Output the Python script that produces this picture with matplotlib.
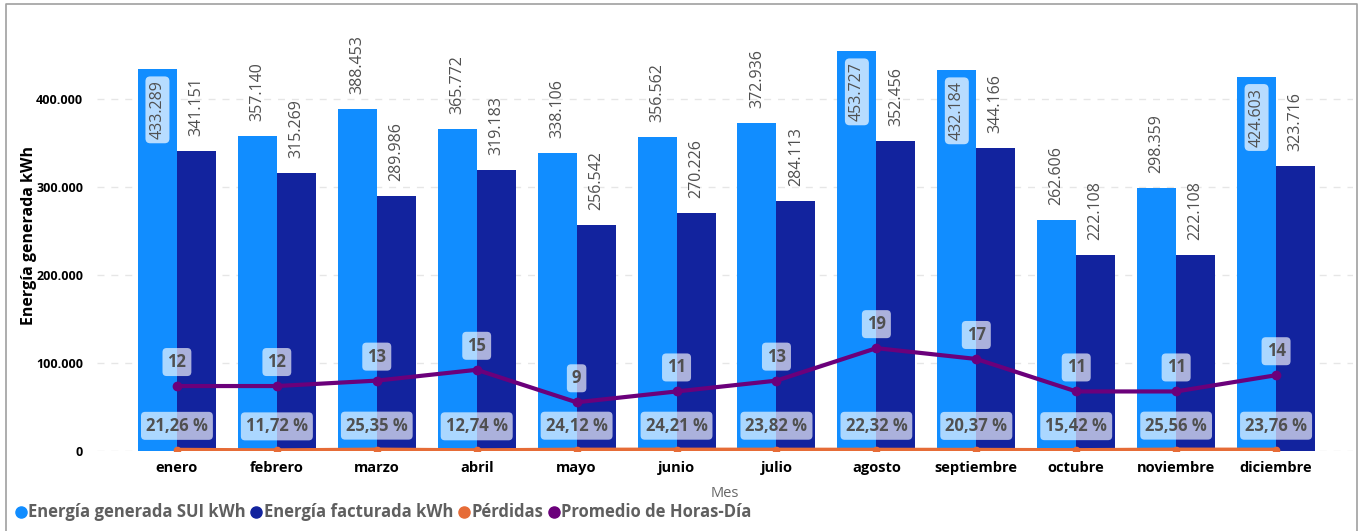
import matplotlib
matplotlib.use('Agg')
import matplotlib.pyplot as plt
from matplotlib.lines import Line2D
import numpy as np

plt.rcParams['font.family'] = ['Open Sans', 'DejaVu Sans']

meses = ['enero', 'febrero', 'marzo', 'abril', 'mayo', 'junio', 'julio',
         'agosto', 'septiembre', 'octubre', 'noviembre', 'diciembre']
generada = [433289, 357140, 388453, 365772, 338106, 356562, 372936,
            453727, 432184, 262606, 298359, 424603]
facturada = [341151, 315269, 289986, 319183, 256542, 270226, 284113,
             352456, 344166, 222108, 222108, 323716]
perdidas = [21.26, 11.72, 25.35, 12.74, 24.12, 24.21, 23.82,
            22.32, 20.37, 15.42, 25.56, 23.76]
horas = [12, 12, 13, 15, 9, 11, 13, 19, 17, 11, 11, 14]

c_gen = '#118DFF'
c_fac = '#12239E'
c_per = '#E66C37'
c_hor = '#6B007B'
c_txt = '#505050'

def miles(v):
    return '{:,}'.format(v).replace(',', '.')

fig = plt.figure(figsize=(13.66, 5.31), dpi=100)
ax = fig.add_axes([97 / 1366, 1 - 451 / 531, (1353 - 97) / 1366, (451 - 45) / 531])
ymax = 461000
ax.set_ylim(0, ymax)
ax.set_xlim(-0.8, 11.77)

x = np.arange(len(meses))
w = 0.39
ax.bar(x - w / 2, generada, w, color=c_gen, zorder=2)
ax.bar(x + w / 2, facturada, w, color=c_fac, zorder=2)

# value labels for the bars, inside the bar when there is no room above
for i in range(len(meses)):
    for xv, val in ((x[i] - w / 2, generada[i]), (x[i] + w / 2, facturada[i])):
        if val > 0.86 * ymax:
            ax.annotate(miles(val), (xv, val), xytext=(0, -11), textcoords='offset pixels',
                        rotation=90, ha='center', va='top', fontsize=11.5, color=c_txt,
                        zorder=5,
                        bbox=dict(boxstyle='round,pad=0.25,rounding_size=0.3',
                                  fc='white', ec='none', alpha=0.7))
        else:
            ax.annotate(miles(val), (xv, val), xytext=(0, 15), textcoords='offset pixels',
                        rotation=90, ha='center', va='bottom', fontsize=11.5, color=c_txt,
                        zorder=5)

ax.set_yticks([0, 100000, 200000, 300000, 400000])
ax.set_yticklabels(['0', '100.000', '200.000', '300.000', '400.000'],
                   fontsize=9, fontweight='bold', color='black')
ax.set_xticks(x)
ax.set_xticklabels(meses, fontsize=10.5, fontweight='bold', color='black')
ax.tick_params(axis='both', length=0)
ax.tick_params(axis='y', pad=10)
ax.tick_params(axis='x', pad=7)
ax.grid(axis='y', color='#E6E6E6', linestyle=(0, (5, 5)), linewidth=1, zorder=0)
ax.set_axisbelow(True)
for s in ax.spines.values():
    s.set_visible(False)

ax.set_ylabel('Energía generada kWh', fontsize=11.5, fontweight='bold', color='black')
ax.yaxis.set_label_coords(-0.048, 0.53)
ax.set_xlabel('Mes', fontsize=10.5, color='#666666')
ax.xaxis.set_label_coords(0.5, -0.085)

# hidden secondary scale for the lines
ax2 = ax.twinx()
ax2.set_ylim(0, 75)
ax2.axis('off')
ax2.set_xlim(ax.get_xlim())

per_frac = [p / 100 for p in perdidas]
ax2.plot(x, per_frac, color=c_per, linewidth=3, marker='o', markersize=4.5,
         solid_capstyle='round', zorder=3)
ax2.plot(x, horas, color=c_hor, linewidth=3, marker='o', markersize=6, zorder=4)

box = dict(boxstyle='round,pad=0.3,rounding_size=0.25', fc='white', ec='none', alpha=0.65)
for i in range(len(meses)):
    ax2.annotate(str(horas[i]), (x[i], horas[i]), xytext=(0, 24), textcoords='offset pixels',
                 ha='center', va='center', fontsize=12, color=c_txt, fontweight='bold',
                 bbox=box, zorder=6)
    ax2.annotate(('%.2f %%' % perdidas[i]).replace('.', ','), (x[i], per_frac[i]),
                 xytext=(0, 24), textcoords='offset pixels',
                 ha='center', va='center', fontsize=12, color=c_txt, fontweight='bold',
                 bbox=box, zorder=6)

handles = [Line2D([], [], marker='o', linestyle='none', markersize=8, color=c)
           for c in (c_gen, c_fac, c_per, c_hor)]
labels = ['Energía generada SUI kWh', 'Energía facturada kWh', 'Pérdidas',
          'Promedio de Horas-Día']
leg = fig.legend(handles, labels, loc='lower left', bbox_to_anchor=(0.005, 0.0),
                 ncol=4, frameon=False, handlelength=0.6, handletextpad=0.25,
                 columnspacing=0.45, borderaxespad=0.3)
for t in leg.get_texts():
    t.set_fontsize(12)
    t.set_fontweight('bold')
    t.set_color('#5f5f5f')

# visual frame
frame = Line2D([6 / 1366, 6 / 1366, 1357 / 1366, 1357 / 1366],
               [0, 1 - 4 / 531, 1 - 4 / 531, 0], transform=fig.transFigure,
               color='#A0A0A0', linewidth=1.2)
fig.add_artist(frame)

fig.savefig('out.png', dpi=100)
